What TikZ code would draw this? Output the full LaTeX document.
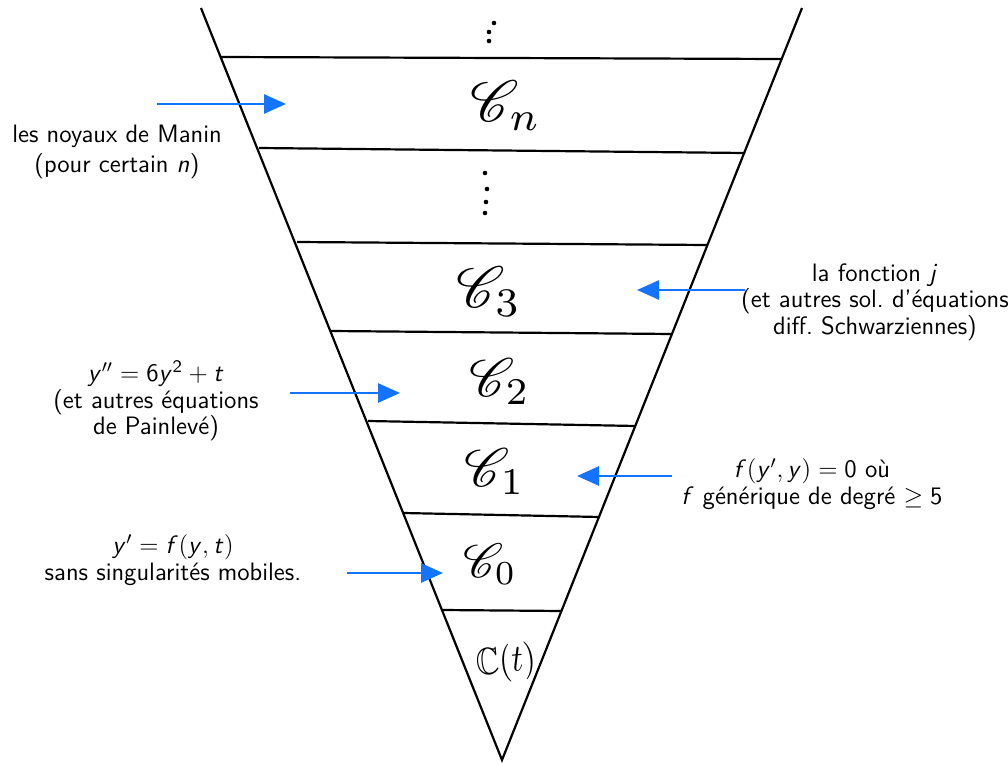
\RequirePackage{fix-cm}
\documentclass[tikz,border=0pt]{standalone}
\usepackage{graphicx}
\usepackage{amssymb}
\usepackage{mathrsfs}
\usetikzlibrary{arrows.meta}
\DeclareMathAlphabet{\msl}{OT1}{cmss}{m}{sl}
\DeclareMathAlphabet{\msf}{OT1}{cmss}{m}{n}
\definecolor{arrowblue}{RGB}{20,115,255}
\tikzset{
  edgeline/.style={line width=1.1pt, black},
  band/.style={line width=1.1pt, black},
  pointer/.style={arrowblue, line width=1.4pt, -{Triangle[length=11pt,width=9.5pt]}},
  lbl/.style={align=center, font=\fontsize{12.6}{13.2}\selectfont\sffamily, inner sep=0pt},
  hand/.style={inner sep=0pt},
  dotmark/.style={circle, fill=black, inner sep=0pt, minimum size=2.3pt}
}
\begin{document}
\begin{tikzpicture}[x=0.5pt,y=-0.5pt]
\useasboundingbox (0,0) rectangle (1008,765);
% triangle
\coordinate (tl) at (201,8);
\coordinate (tr) at (802,8);
\coordinate (apex) at (502,760);
\draw[edgeline] (tl) -- (apex) -- (tr);
% bands
\coordinate (l1) at (221,57);  \coordinate (r1) at (782,59);
\coordinate (l2) at (259,148); \coordinate (r2) at (745,153);
\coordinate (l3) at (297,242); \coordinate (r3) at (707,245);
\coordinate (l4) at (331,331); \coordinate (r4) at (672,334);
\coordinate (l5) at (368,421); \coordinate (r5) at (636,426);
\coordinate (l6) at (403,513); \coordinate (r6) at (600,517);
\coordinate (l7) at (442,610); \coordinate (r7) at (562,611);
\foreach \i in {1,...,7} {\draw[band] (l\i) -- (r\i);}
% dots
\node[dotmark] (d1) at (494,23) {};
\node[dotmark] (d2) at (489,32) {};
\node[dotmark] (d3) at (489,41) {};
\node[dotmark] (d4) at (485,173) {};
\node[dotmark] (d5) at (487,189) {};
\node[dotmark] (d6) at (486,202) {};
\node[dotmark] (d7) at (485,213) {};
% handwritten labels
\node[hand] (cn) at (506,106) {\scalebox{2.9}{$\mathscr{C}_{n}$}};
\node[hand] (c3) at (489,292) {\scalebox{2.9}{$\mathscr{C}_{3}$}};
\node[hand] (c2) at (500,382) {\scalebox{2.7}{$\mathscr{C}_{2}$}};
\node[hand] (c1) at (495,472) {\scalebox{2.7}{$\mathscr{C}_{1}$}};
\node[hand] (c0) at (490,564) {\scalebox{2.4}{$\mathscr{C}_{0}$}};
\node[hand, rotate=5] (ct) at (506,663) {\scalebox{1.6}[1.9]{$\mathbb{C}(t)$}};
% text labels
\node[lbl] (manin) at (117,152) {les noyaux de Manin\\[1.5pt](pour certain $\msl{n}$)};
\node[lbl] (jfun) at (875,302) {la fonction $\msl{j}$\\(et autres sol.\ d'équations\\diff.\ Schwarziennes)};
\node[lbl] (pain) at (156,401) {$\msl{y}'' = \msf{6}\msl{y}^{\msf{2}} + \msl{t}$\\(et autres équations\\de Painlevé)};
\node[lbl] (gen) at (812,484) {$\msl{f}(\msl{y}', \msl{y}) = \msf{0}$ où\\$\msl{f}$ générique de degré $\geq \msf{5}$};
\node[lbl] (riccati) at (173,560) {$\msl{y}' = \msl{f}(\msl{y}, \msl{t})$\\sans singularités mobiles.};
% arrows
\coordinate (a1s) at (157,104); \coordinate (a1e) at (286,104);
\coordinate (a2s) at (745,290); \coordinate (a2e) at (637,290);
\coordinate (a3s) at (290,393); \coordinate (a3e) at (400,393);
\coordinate (a4s) at (672,476); \coordinate (a4e) at (577,476);
\coordinate (a5s) at (347,573); \coordinate (a5e) at (443,573);
\foreach \i in {1,...,5} {\draw[pointer] (a\i s) -- (a\i e);}
\end{tikzpicture}
\end{document}
